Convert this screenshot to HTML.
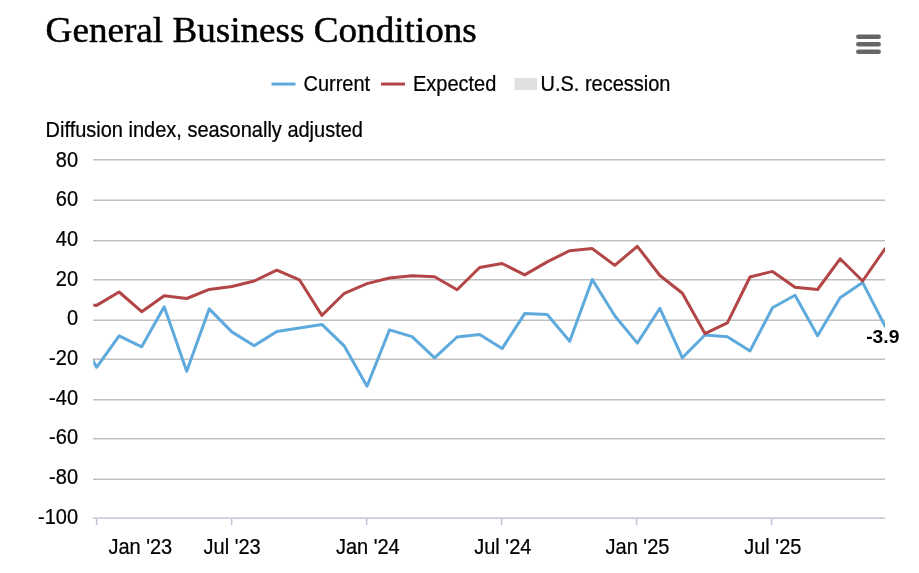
<!DOCTYPE html>
<html lang="en">
<head>
<meta charset="utf-8">
<title>General Business Conditions</title>
<style>
html,body{margin:0;padding:0;background:#fff;}
body{width:919px;height:573px;overflow:hidden;position:relative;}
svg{display:block;position:absolute;left:0;top:0;}
.t{font-family:"Liberation Sans",Arial,Helvetica,sans-serif;font-size:20px;fill:#000;stroke:#000;stroke-width:0.22px;}
.title{font-family:"Liberation Serif",Georgia,serif;fill:#000;}
</style>
</head>
<body>
<svg width="919" height="573" viewBox="0 0 919 573">
<rect x="0" y="0" width="919" height="573" fill="#ffffff"/>
<defs><clipPath id="plot"><rect x="93.3" y="150" width="291.7" height="380"/><rect x="385" y="150" width="500" height="380"/></clipPath></defs>
<text class="title" transform="translate(45.6 42.3) scale(1.018 1)" font-size="36.5" stroke="#000" stroke-width="0.5">General Business Conditions</text>
<g stroke="#666666" stroke-width="4.5" stroke-linecap="round" fill="none"><path d="M858.3 36.8H878.7M858.3 44.3H878.7M858.3 51.8H878.7"/></g>
<path d="M271.5 84.05H295.5" stroke="#5faadd" stroke-width="3" fill="none"/>
<text class="t" transform="translate(303.5 91) scale(1 1.08)">Current</text>
<path d="M381 84.05H405" stroke="#b24545" stroke-width="3" fill="none"/>
<text class="t" transform="translate(413 91) scale(1 1.08)">Expected</text>
<rect x="514.5" y="78" width="22.5" height="12" fill="#e0e0e0"/>
<text class="t" transform="translate(540.5 91) scale(1 1.08)">U.S. recession</text>
<text class="t" transform="translate(45.6 136.8) scale(1 1.08)">Diffusion index, seasonally adjusted</text>
<g stroke="#c0c0c0" stroke-width="1.5" fill="none"><path d="M93.1 159.75H885"/><path d="M93.1 200.25H885"/><path d="M93.1 240.75H885"/><path d="M93.1 279.75H885"/><path d="M93.1 320.25H885"/><path d="M93.1 359.25H885"/><path d="M93.1 399.75H885"/><path d="M93.1 438.75H885"/><path d="M93.1 479.25H885"/></g>
<path d="M93.1 518.25H885" stroke="#c0c0c0" stroke-width="1.5" fill="none"/>
<path d="M93.1 518.25H885" stroke="#ccd6eb" stroke-width="1.5" fill="none" opacity="0.6"/>
<g stroke="#bcc5d8" stroke-width="1.5" fill="none"><path d="M96.6 519V525"/><path d="M231.6 519V525"/><path d="M366.6 519V525"/><path d="M501.6 519V525"/><path d="M636.6 519V525"/><path d="M771.6 519V525"/></g>
<g class="t" text-anchor="end"><text transform="translate(78 166.9) scale(1 1.08)">80</text><text transform="translate(78 206.1) scale(1 1.08)">60</text><text transform="translate(78 245.5) scale(1 1.08)">40</text><text transform="translate(78 285.6) scale(1 1.08)">20</text><text transform="translate(78 325.0) scale(1 1.08)">0</text><text transform="translate(78 364.9) scale(1 1.08)">-20</text><text transform="translate(78 404.7) scale(1 1.08)">-40</text><text transform="translate(78 443.7) scale(1 1.08)">-60</text><text transform="translate(78 484.2) scale(1 1.08)">-80</text><text transform="translate(78 523.9) scale(1 1.08)">-100</text></g>
<g class="t" text-anchor="middle"><text transform="translate(140.3 553.7) scale(1 1.08)">Jan '23</text><text transform="translate(232.1 553.7) scale(1 1.08)">Jul '23</text><text transform="translate(367.8 553.7) scale(1 1.08)">Jan '24</text><text transform="translate(502.8 553.7) scale(1 1.08)">Jul '24</text><text transform="translate(637.5 553.7) scale(1 1.08)">Jan '25</text><text transform="translate(772.8 553.7) scale(1 1.08)">Jul '25</text></g>
<g clip-path="url(#plot)" fill="none" stroke-width="3" stroke-linejoin="round" stroke-linecap="round"><path d="M74.1 326.0 L96.6 367.3 L119.1 335.8 L141.7 346.8 L164.2 306.8 L186.7 371.3 L209.2 308.9 L231.8 331.9 L254.3 345.7 L276.8 331.4 L299.4 327.9 L321.9 324.4 L344.4 346.2 L367.0 386.2 L389.5 329.9 L412.0 336.6 L434.6 357.9 L457.1 337.0 L479.6 334.4 L502.1 348.6 L524.7 313.6 L547.2 314.5 L569.7 341.3 L592.3 279.5 L614.8 315.7 L637.3 343.1 L659.9 308.3 L682.4 357.8 L704.9 335.0 L727.4 336.8 L750.0 350.9 L772.5 307.8 L795.0 295.3 L817.6 335.8 L840.1 297.8 L862.6 282.4 L885.2 326.3" stroke="#5faadd"/><path d="M74.1 303.0 L96.6 305.4 L119.1 292.0 L141.7 311.7 L164.2 295.8 L186.7 298.5 L209.2 289.4 L231.8 286.5 L254.3 281.0 L276.8 270.2 L299.4 279.8 L321.9 315.4 L344.4 293.3 L367.0 283.6 L389.5 278.0 L412.0 275.7 L434.6 276.8 L457.1 289.7 L479.6 267.5 L502.1 263.5 L524.7 274.9 L547.2 261.9 L569.7 250.7 L592.3 248.6 L614.8 265.4 L637.3 246.3 L659.9 275.5 L682.4 293.3 L704.9 333.6 L727.4 322.9 L750.0 277.0 L772.5 271.4 L795.0 287.2 L817.6 289.5 L840.1 258.8 L862.6 281.0 L885.2 248.5" stroke="#b24545"/></g>
<text transform="translate(866.2 343.1) scale(1.07 0.97)" font-family="&quot;Liberation Sans&quot;,Arial,sans-serif" font-weight="bold" font-size="18" fill="#000">-3.9</text>
</svg>
</body>
</html>
